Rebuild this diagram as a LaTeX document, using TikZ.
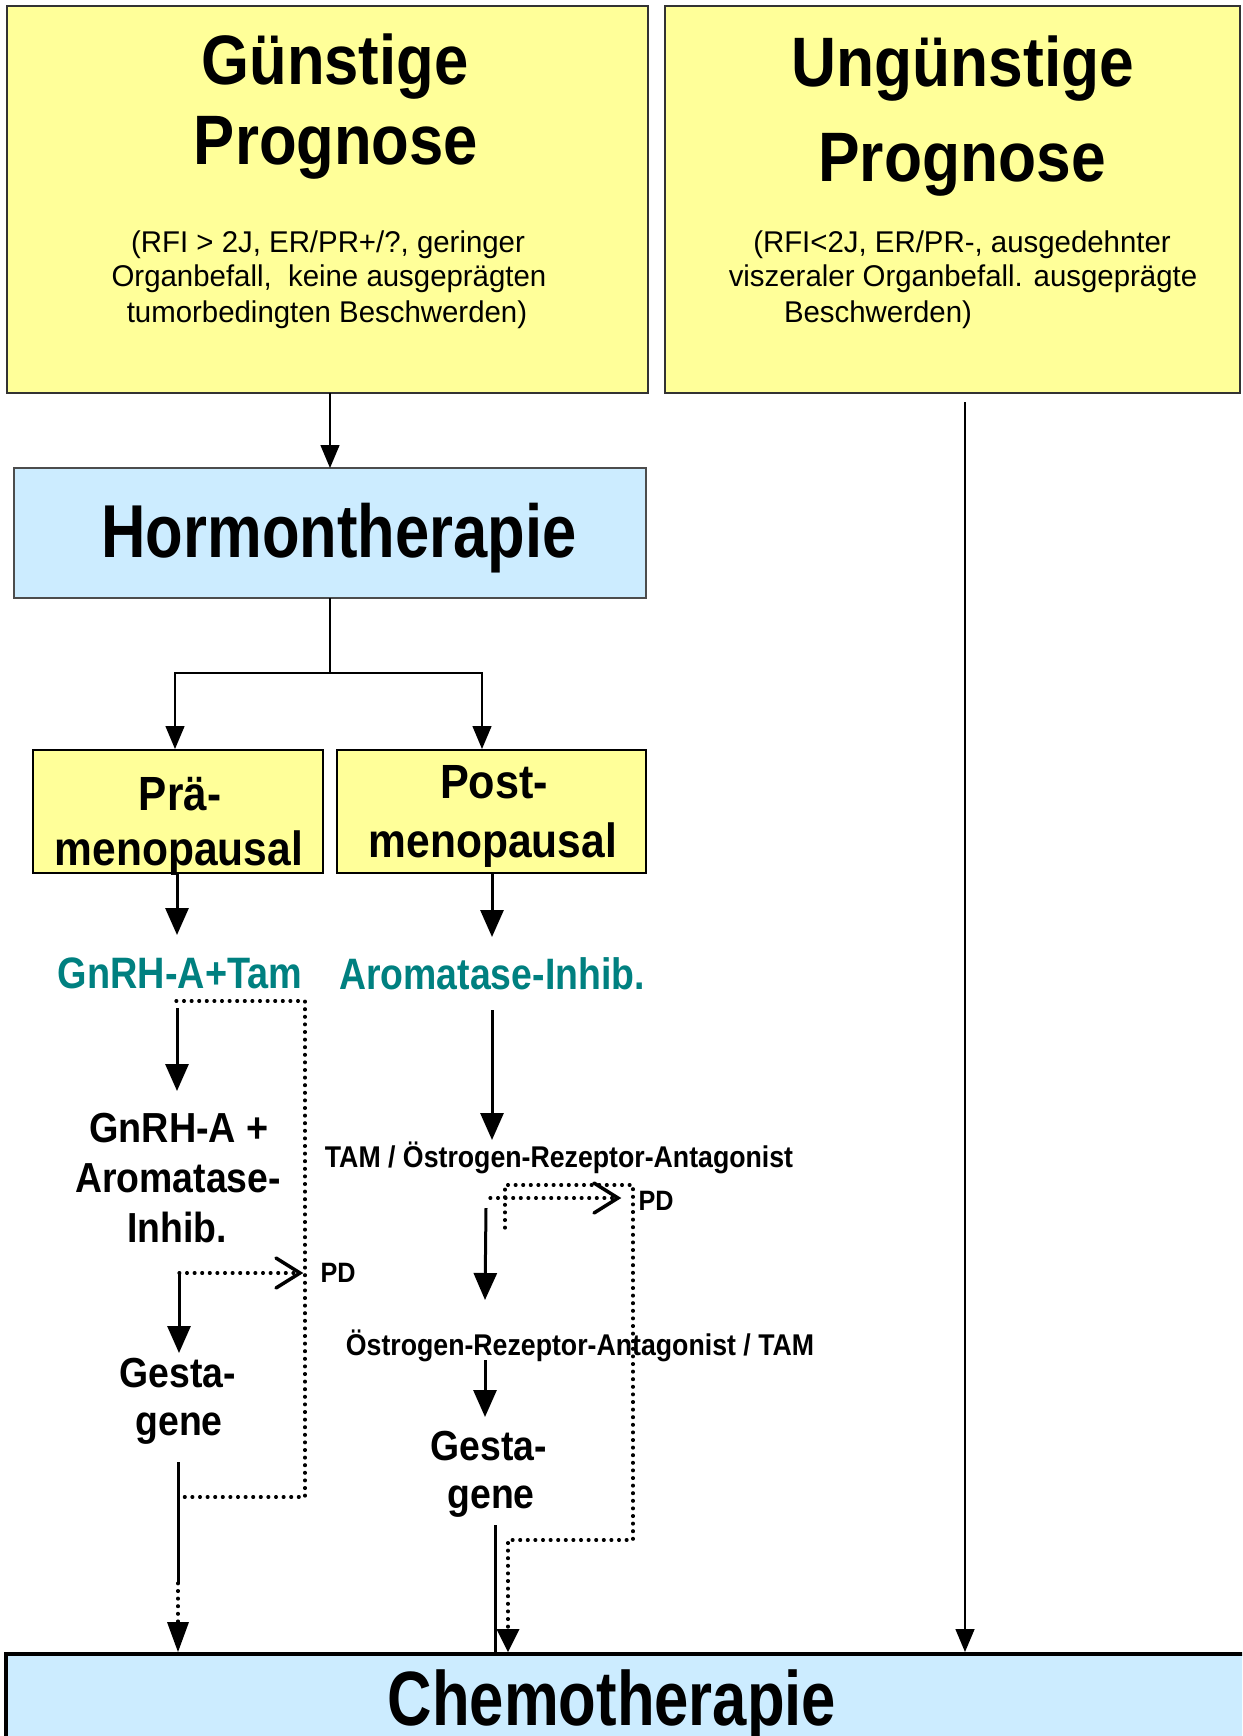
\documentclass[tikz,border=0pt]{standalone}
\usepackage{fontspec}
\setmainfont{Liberation Sans}
\usepackage{graphicx}
\usetikzlibrary{arrows.meta}
\definecolor{boxyellow}{HTML}{FFFF99}
\definecolor{boxblue}{HTML}{CCECFF}
\definecolor{tealtxt}{HTML}{008080}
\newcommand\sx[2]{\scalebox{#1}[1]{#2}}
\newcommand\fs[1]{\fontsize{#1}{#1}\selectfont}
\begin{document}
\begin{tikzpicture}[x=1pt,y=-1pt,
  boxnode/.style={anchor=north west, inner sep=0pt, outer sep=0pt},
  yelbox/.style={boxnode, draw=black!80, line width=1.2pt, fill=boxyellow},
  yelbox2/.style={boxnode, draw=black, line width=2pt, fill=boxyellow},
  bluebox/.style={boxnode, draw=black!70, line width=1.2pt, fill=boxblue},
  txt/.style={anchor=base, inner sep=0pt, outer sep=0pt},
  head/.style={txt, font=\fs{70}\bfseries},
  small/.style={txt, font=\fs{30}},
  mid/.style={txt, font=\fs{42}\bfseries},
  thinarrow/.style={line width=1.5pt, -{Triangle[length=23pt,width=19pt]}},
  thickarrow/.style={line width=3pt, -{Triangle[length=27pt,width=23pt]}},
  thickline/.style={line width=3pt},
  dots/.style={line width=3.2pt, dash pattern=on 0.8pt off 6.8pt, line cap=round},
  barb/.style={line width=3.5pt, line cap=round, line join=miter},
]
\path[use as bounding box, clip] (0,0) rectangle (1242,1736);
\fill[white] (0,0) rectangle (1242,1736);

% ---- top boxes
\node[yelbox, minimum width=641pt, minimum height=387pt] (gp) at (7,6) {};
\node[yelbox, minimum width=575pt, minimum height=387pt] (up) at (665,6) {};

\node[head] (gp1) at (335,85) {\sx{0.88}{Günstige}};
\node[head] (gp2) at (336,165) {\sx{0.88}{Prognose}};
\node[small] (gp3) at (328,252) {\sx{0.98}{(RFI > 2J, ER/PR+/?, geringer}};
\node[small] (gp4) at (329,287) {\sx{0.98}{Organbefall,\ \ keine ausgeprägten}};
\node[small] (gp5) at (327,322) {\sx{0.98}{tumorbedingten Beschwerden)}};

\node[head] (up1) at (963,87) {\sx{0.89}{Ungünstige}};
\node[head] (up2) at (962,182) {\sx{0.89}{Prognose}};
\node[small] (up3) at (962,252) {\sx{0.98}{(RFI<2J, ER/PR-, ausgedehnter}};
\node[small] (up4) at (963,287) {\sx{0.98}{viszeraler Organbefall. ausgeprägte}};
\node[small, anchor=base west] (up5) at (784,322) {\sx{0.98}{Beschwerden)}};

% ---- Hormontherapie
\node[bluebox, minimum width=632pt, minimum height=130pt] (ht) at (14,468) {};
\node[txt, font=\fs{75}\bfseries] (ht1) at (339,557) {\sx{0.82}{Hormontherapie}};

% ---- Prae / Post
\node[yelbox2, minimum width=290pt, minimum height=123pt] (pre) at (33,750) {};
\node[yelbox2, minimum width=309pt, minimum height=123pt] (post) at (337,750) {};
\node[txt, font=\fs{48}\bfseries] (pre1) at (180,810) {\sx{0.88}{Prä-}};
\node[txt, font=\fs{48}\bfseries] (pre2) at (179,865) {\sx{0.886}{menopausal}};
\node[txt, font=\fs{48}\bfseries] (post1) at (494,798) {\sx{0.9}{Post-}};
\node[txt, font=\fs{48}\bfseries] (post2) at (493,857) {\sx{0.886}{menopausal}};

% ---- first line drugs
\node[txt, font=\fs{44}\bfseries, text=tealtxt] (gnt) at (180,988) {\sx{0.86}{GnRH-A+Tam}};
\node[txt, font=\fs{44}\bfseries, text=tealtxt] (ai) at (492,989) {\sx{0.85}{Aromatase-Inhib.}};

% ---- left column
\node[mid] (ga1) at (179,1142) {\sx{0.9}{GnRH-A +}};
\node[mid] (ga2) at (178,1192) {\sx{0.89}{Aromatase-}};
\node[mid] (ga3) at (177,1242) {\sx{0.89}{Inhib.}};
\node[txt, font=\fs{28}\bfseries] (pdl) at (338,1282) {\sx{0.9}{PD}};
\node[mid] (gl1) at (178,1387) {\sx{0.89}{Gesta-}};
\node[mid] (gl2) at (179,1435) {\sx{0.89}{gene}};

% ---- right column
\node[txt, font=\fs{30}\bfseries] (tam) at (559,1167) {\sx{0.89}{TAM / Östrogen-Rezeptor-Antagonist}};
\node[txt, font=\fs{28}\bfseries] (pdr) at (656,1210) {\sx{0.9}{PD}};
\node[txt, font=\fs{30}\bfseries] (ora) at (580,1355) {\sx{0.89}{Östrogen-Rezeptor-Antagonist / TAM}};
\node[mid] (gr1) at (489,1460) {\sx{0.89}{Gesta-}};
\node[mid] (gr2) at (491,1508) {\sx{0.89}{gene}};

% ---- Chemotherapie
\node[boxnode, draw=black, line width=4pt, fill=boxblue, minimum width=1260pt, minimum height=140pt] (ct) at (6,1654) {};
\node[txt, font=\fs{77}\bfseries] (ct1) at (612,1725) {\sx{0.80}{Chemotherapie}};

% ---- coordinates
\coordinate (a0) at (330,393);
\coordinate (a1) at (330,468);
\coordinate (b0) at (330,598);
\coordinate (b1) at (330,673);
\coordinate (bl) at (175,749);
\coordinate (br) at (482,749);
\coordinate (r0) at (965,402);
\coordinate (r1) at (965,1652);
\coordinate (c0) at (177,873);
\coordinate (c1) at (177,935);
\coordinate (d0) at (492,873);
\coordinate (d1) at (492,937);
\coordinate (e0) at (177,1008);
\coordinate (e1) at (177,1091);
\coordinate (f0) at (179,1273);
\coordinate (f1) at (179,1353);
\coordinate (f2) at (300,1273);
\coordinate (g0) at (178,1462);
\coordinate (g1) at (178,1583);
\coordinate (g2) at (178,1652);
\coordinate (g3) at (178,1624);
\coordinate (h0) at (176,1001);
\coordinate (h1) at (305,1001);
\coordinate (h2) at (305,1497);
\coordinate (h3) at (182,1497);
\coordinate (k0) at (492,1010);
\coordinate (k1) at (492,1140);
\coordinate (m0) at (486,1208);
\coordinate (m1) at (485,1300);
\coordinate (n0) at (490,1198);
\coordinate (n1) at (618,1198);
\coordinate (p0) at (505,1228);
\coordinate (p1) at (505,1185);
\coordinate (p2) at (633,1185);
\coordinate (p3) at (633,1540);
\coordinate (p4) at (508,1540);
\coordinate (p5) at (508,1652);
\coordinate (p6) at (508,1630);
\coordinate (q0) at (485,1360);
\coordinate (q1) at (485,1417);
\coordinate (s0) at (495,1525);
\coordinate (s1) at (495,1652);

% ---- thin connectors
\draw[thinarrow] (a0) -- (a1);
\draw[line width=1.5pt] (b0) -- (b1);
\draw[thinarrow] (b1) -| (bl);
\draw[thinarrow] (b1) -| (br);
\draw[thinarrow] (r0) -- (r1);

% ---- thick connectors
\draw[thickarrow] (c0) -- (c1);
\draw[thickarrow] (d0) -- (d1);
\draw[thickarrow] (e0) -- (e1);
\draw[thickarrow] (f0) -- (f1);
\draw[thickarrow] (k0) -- (k1);
\draw[thickarrow] (m0) -- (m1);
\draw[thickarrow] (q0) -- (q1);
\draw[thickline] (g0) -- (g1);
\draw[thickline] (s0) -- (s1);

% ---- dotted connectors
\draw[dots] (h0) -- (h1) -- (h2) -- (h3);
\draw[dots] (f0) -- ([xshift=-3pt]f2);
\draw[barb] ([shift={(-24,-15)}]f2) -- (f2) -- ([shift={(-24,15)}]f2);
\draw[dots] (g1) -- (g3);
\fill (g2) -- ++(-11,-30) -- ++(22,0) -- cycle;
\draw[dots] (n0) -- ([xshift=-3pt]n1);
\draw[barb] ([shift={(-24,-15)}]n1) -- (n1) -- ([shift={(-24,15)}]n1);
\draw[dots] (p0) -- (p1) -- (p2) -- (p3) -- (p4) -- (p6);
\fill (p5) -- ++(-11.5,-23) -- ++(23,0) -- cycle;
\end{tikzpicture}
\end{document}
